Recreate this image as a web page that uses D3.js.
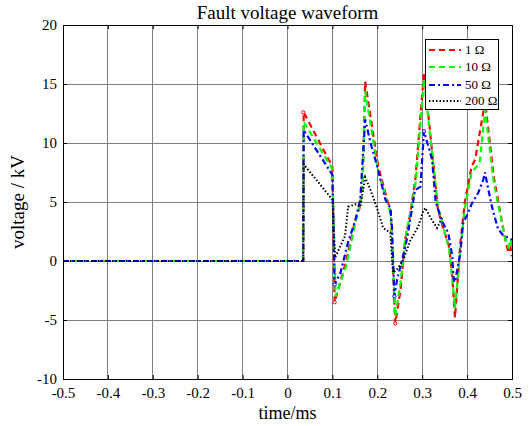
<!DOCTYPE html>
<html><head><meta charset="utf-8">
<script src="https://cdn.jsdelivr.net/npm/d3@7"></script>
<style>
body{margin:0;background:#fff;}
</style></head>
<body><svg id="c" width="532" height="426"></svg>
<script>
const xTicks = [-0.5,-0.4,-0.3,-0.2,-0.1,0,0.1,0.2,0.3,0.4,0.5];
const yTicks = [-10,-5,0,5,10,15,20];
const seriesNames = ["1 Ω","10 Ω","50 Ω","200 Ω"];

const tRed = [-0.5,0.035,0.036,0.1,0.105,0.13,0.15,0.16,0.167,0.173,0.202,0.222,0.23,0.24,0.252,0.262,0.273,0.285,0.304,0.335,0.345,0.36,0.367,0.373,0.385,0.395,0.41,0.418,0.44,0.46,0.48,0.487,0.492,0.497,0.5];
const vRed = [0,0,12.6,8.0,-3.5,-0.1,3.3,4.4,6.1,15.2,8.0,5.2,4.2,-5.3,-2.4,1.8,3.9,7.0,16.0,4.4,3.0,1.2,-1.3,-4.8,1.5,5.0,8.0,8.6,13.5,7.0,2.8,1.5,0.7,1.1,0.4];

const tGreen = [-0.5,0.035,0.036,0.1,0.107,0.13,0.15,0.167,0.173,0.202,0.222,0.23,0.24,0.252,0.262,0.273,0.285,0.304,0.335,0.345,0.36,0.367,0.373,0.385,0.395,0.41,0.428,0.44,0.46,0.48,0.487,0.492,0.497,0.5];
const vGreen = [0,0,11.8,7.8,-3.0,-0.5,3.0,5.8,14.4,7.6,5.0,4.0,-4.7,-1.8,1.8,4.0,6.5,15.4,4.6,3.2,1.0,-1.5,-4.0,1.0,4.5,7.5,8.3,12.8,6.5,2.8,1.6,1.2,1.8,1.3];

const tBlue = [-0.5,0.035,0.036,0.1,0.105,0.118,0.135,0.15,0.162,0.173,0.185,0.2,0.218,0.229,0.233,0.238,0.244,0.262,0.269,0.284,0.296,0.304,0.322,0.33,0.345,0.358,0.367,0.37,0.373,0.385,0.391,0.4,0.411,0.425,0.436,0.44,0.447,0.456,0.469,0.48,0.5];
const vBlue = [0,0,11.1,7.3,-2.0,-1.0,1.6,3.3,5.2,12.0,10.0,8.0,5.2,4.5,2.7,-3.0,-1.6,1.1,2.5,6.0,6.3,11.0,8.6,5.0,3.3,2.4,0.4,-1.6,-1.8,0.7,3.2,3.9,4.9,5.8,6.9,7.5,6.1,4.5,2.7,2.2,1.8];

const tBlack = [-0.5,0.035,0.036,0.1,0.106,0.128,0.135,0.151,0.162,0.173,0.184,0.2,0.213,0.229,0.235,0.244,0.258,0.273,0.291,0.302,0.307,0.318,0.333,0.345];
const vBlack = [0,0,8.2,5.2,0.3,2.1,4.6,4.8,4.6,7.1,6.1,4.4,2.8,2.4,-1.0,-0.7,0.1,1.7,2.9,4.2,4.5,3.7,2.8,3.7];

const FONT = '"Liberation Serif","Times New Roman",serif';
const W = 532, H = 426;
const m = {l:63, r:20, t:25, b:47};
const svg = d3.select("#c");
const x = d3.scaleLinear().domain([-0.5,0.5]).range([m.l, W-m.r]);
const y = d3.scaleLinear().domain([-10,20]).range([H-m.b, m.t]);

// grid
const g = svg.append("g");
g.selectAll(".vg").data(xTicks.slice(1,-1)).join("line")
  .attr("x1",d=>x(d)).attr("x2",d=>x(d)).attr("y1",y(-10)).attr("y2",y(20))
  .attr("stroke","#808080").attr("stroke-width",1).attr("shape-rendering","crispEdges");
g.selectAll(".hg").data(yTicks.slice(1,-1)).join("line")
  .attr("y1",d=>y(d)).attr("y2",d=>y(d)).attr("x1",x(-0.5)).attr("x2",x(0.5))
  .attr("stroke","#808080").attr("stroke-width",1).attr("shape-rendering","crispEdges");

// axes
const xAxis = d3.axisBottom(x).tickValues(xTicks).tickSize(-4).tickPadding(8)
  .tickFormat(d=> d===0 ? "0" : d3.format(".1f")(d).replace("−","-"));
const ax = svg.append("g").attr("transform",`translate(0,${y(-10)})`).call(xAxis);
ax.select(".domain").remove();
ax.attr("font-family",null).attr("font-size",null);
ax.selectAll("text").style("font-family",FONT).style("font-size","15px").attr("fill","#000");
const yAxis = d3.axisLeft(y).tickValues(yTicks).tickSize(-4).tickPadding(6)
  .tickFormat(d=>String(d));
const ay = svg.append("g").attr("transform",`translate(${x(-0.5)},0)`).call(yAxis);
ay.select(".domain").remove();
ay.attr("font-family",null).attr("font-size",null);
ay.selectAll("text").style("font-family",FONT).style("font-size","15px").attr("fill","#000");
const axT = svg.append("g").attr("transform",`translate(0,${y(20)})`).call(d3.axisTop(x).tickValues(xTicks).tickSize(-4).tickFormat(""));
axT.select(".domain").remove();
const ayR = svg.append("g").attr("transform",`translate(${x(0.5)},0)`).call(d3.axisRight(y).tickValues(yTicks).tickSize(-4).tickFormat(""));
ayR.select(".domain").remove();

// clip
svg.append("clipPath").attr("id","clip").append("rect")
  .attr("x",x(-0.5)).attr("y",y(20)).attr("width",x(0.5)-x(-0.5)).attr("height",y(-10)-y(20));

const line = d3.line().x(d=>x(d[0])).y(d=>y(d[1]));
const series = [
  {t:tRed, v:vRed, color:"#ff0000", dash:"6,4", w:2.2},
  {t:tGreen, v:vGreen, color:"#00ff00", dash:"6,4", w:2.2},
  {t:tBlue, v:vBlue, color:"#0000ff", dash:"6,3,2,3", w:2.2},
  {t:tBlack, v:vBlack, color:"#000000", dash:"1.5,2", w:2}
];
const lg = svg.append("g").attr("clip-path","url(#clip)");
series.forEach(s=>{
  lg.append("path").datum(s.t.map((t,i)=>[t,s.v[i]]))
    .attr("d",line).attr("fill","none").attr("stroke",s.color)
    .attr("stroke-width",s.w).attr("stroke-dasharray",s.dash);
});
// small markers
const markRed = [[0.035,12.6],[0.105,-3.5],[0.24,-5.3]];
const markBlue = [[0.105,-2.0],[0.238,-3.0],[0.304,11.0]];
lg.selectAll(".mr").data(markRed).join("circle").attr("cx",d=>x(d[0])).attr("cy",d=>y(d[1])).attr("r",1.6)
  .attr("fill","#fff").attr("stroke","#ff0000").attr("stroke-width",1);
lg.selectAll(".mb").data(markBlue).join("circle").attr("cx",d=>x(d[0])).attr("cy",d=>y(d[1])).attr("r",1.6)
  .attr("fill","#fff").attr("stroke","#0000ff").attr("stroke-width",1);

// border
svg.append("rect").attr("x",x(-0.5)).attr("y",y(20)).attr("width",x(0.5)-x(-0.5)).attr("height",y(-10)-y(20))
  .attr("fill","none").attr("stroke","#000").attr("stroke-width",1).attr("shape-rendering","crispEdges");

// title & labels
svg.append("text").attr("x",(x(-0.5)+x(0.5))/2).attr("y",19).attr("text-anchor","middle")
  .style("font-family",FONT).style("font-size","19px").text("Fault voltage waveform");
svg.append("text").attr("x",(x(-0.5)+x(0.5))/2).attr("y",419).attr("text-anchor","middle")
  .style("font-family",FONT).style("font-size","18px").text("time/ms");
svg.append("text").attr("transform",`translate(24,${(y(-10)+y(20))/2}) rotate(-90)`).attr("text-anchor","middle")
  .style("font-family",FONT).style("font-size","19px").text("voltage / kV");

// legend
const leg = svg.append("g");
leg.append("rect").attr("x",425.5).attr("y",39.5).attr("width",73).attr("height",70)
  .attr("fill","#fff").attr("stroke","#000").attr("stroke-width",1);
const rowY = [50,67,85,101];
series.forEach((s,i)=>{
  leg.append("line").attr("x1",429).attr("x2",461).attr("y1",rowY[i]).attr("y2",rowY[i])
    .attr("stroke",s.color).attr("stroke-width",s.w).attr("stroke-dasharray",s.dash);
  leg.append("text").attr("x",465).attr("y",rowY[i]+4).style("font-family",FONT).style("font-size","13px").text(seriesNames[i]);
});
</script></body></html>
